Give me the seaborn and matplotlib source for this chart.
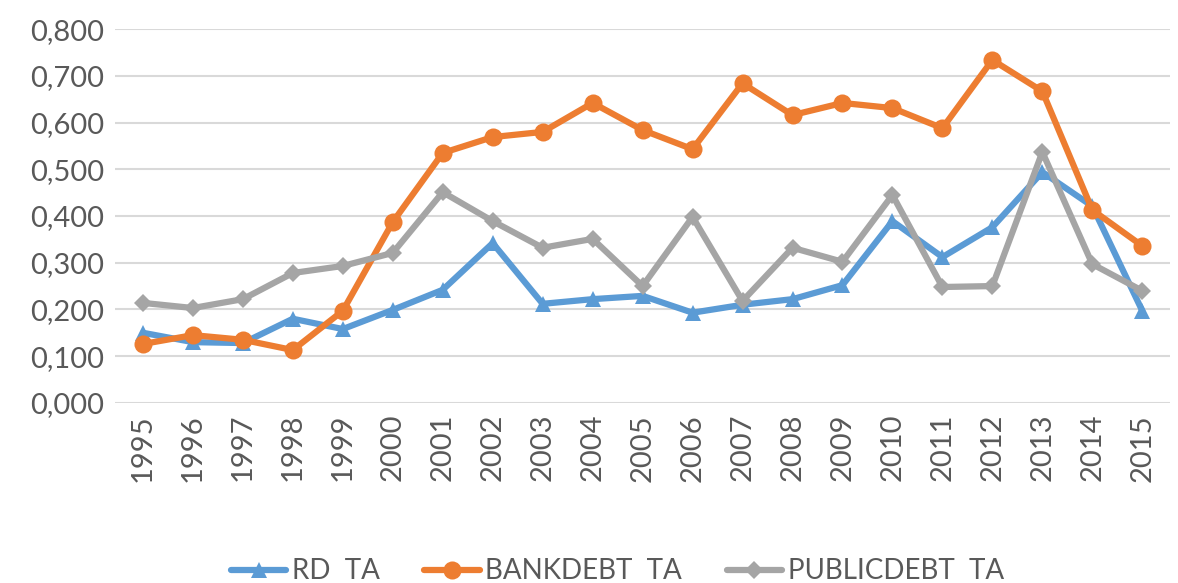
import pandas as pd
import numpy as np
import matplotlib.pyplot as plt
import seaborn as sns

years = list(range(1995, 2016))
rd_ta = [0.150, 0.130, 0.128, 0.180, 0.158, 0.199, 0.242, 0.342, 0.212, 0.222, 0.229,
         0.193, 0.210, 0.222, 0.252, 0.389, 0.312, 0.376, 0.494, 0.421, 0.197]
bankdebt_ta = [0.126, 0.145, 0.135, 0.113, 0.197, 0.387, 0.535, 0.569, 0.580, 0.642, 0.584,
               0.543, 0.684, 0.616, 0.642, 0.631, 0.588, 0.734, 0.667, 0.413, 0.336]
publicdebt_ta = [0.214, 0.203, 0.222, 0.278, 0.293, 0.321, 0.451, 0.389, 0.332, 0.351, 0.250,
                 0.398, 0.218, 0.332, 0.302, 0.445, 0.248, 0.250, 0.537, 0.297, 0.240]
labels = ['RD  TA', 'BANKDEBT  TA', 'PUBLICDEBT  TA']
colors = ['#5B9BD5', '#ED7D31', '#A5A5A5']
markers = ['^', 'o', 'D']
sizes = [12, 13, 9]

df = pd.DataFrame({'year': years * 3,
                   'value': rd_ta + bankdebt_ta + publicdebt_ta,
                   'series': [labels[0]] * 21 + [labels[1]] * 21 + [labels[2]] * 21})

sns.set_style('white')
plt.rcParams['font.family'] = ['Lato', 'DejaVu Sans']

fig, ax = plt.subplots(figsize=(11.78, 5.83), dpi=100)
fig.subplots_adjust(left=0.098, right=0.993, top=0.95, bottom=0.309)

for lab, col, mk, ms in zip(labels, colors, markers, sizes):
    sns.lineplot(data=df[df.series == lab], x='year', y='value', color=col, marker=mk,
                 markersize=ms, markeredgewidth=0, linewidth=4.5, label=lab, ax=ax)

ax.set_ylim(0, 0.8)
ax.set_xlim(1994.45, 2015.55)
ax.set_yticks(np.arange(0, 0.81, 0.1))
ax.set_yticklabels([f'{v:.3f}'.replace('.', ',') for v in np.arange(0, 0.81, 0.1)])
ax.set_xticks(years)
ax.set_xticklabels([str(y) for y in years], rotation=90)
ax.tick_params(axis='both', labelsize=21, colors='#595959', length=0, pad=8)
ax.yaxis.grid(True, color='#D9D9D9', linewidth=1.5)
ax.set_axisbelow(True)
for s in ax.spines.values():
    s.set_visible(False)
ax.set_xlabel('')
ax.set_ylabel('')

ax.get_legend().remove()
handles, labs = ax.get_legend_handles_labels()
leg = fig.legend(handles, labs, loc='lower center', bbox_to_anchor=(0.524, -0.045), ncol=3,
                 frameon=False, fontsize=20, handlelength=2.0, columnspacing=1.6,
                 handletextpad=0.2)
for t in leg.get_texts():
    t.set_color('#595959')

fig.savefig('out.png', dpi=100)
